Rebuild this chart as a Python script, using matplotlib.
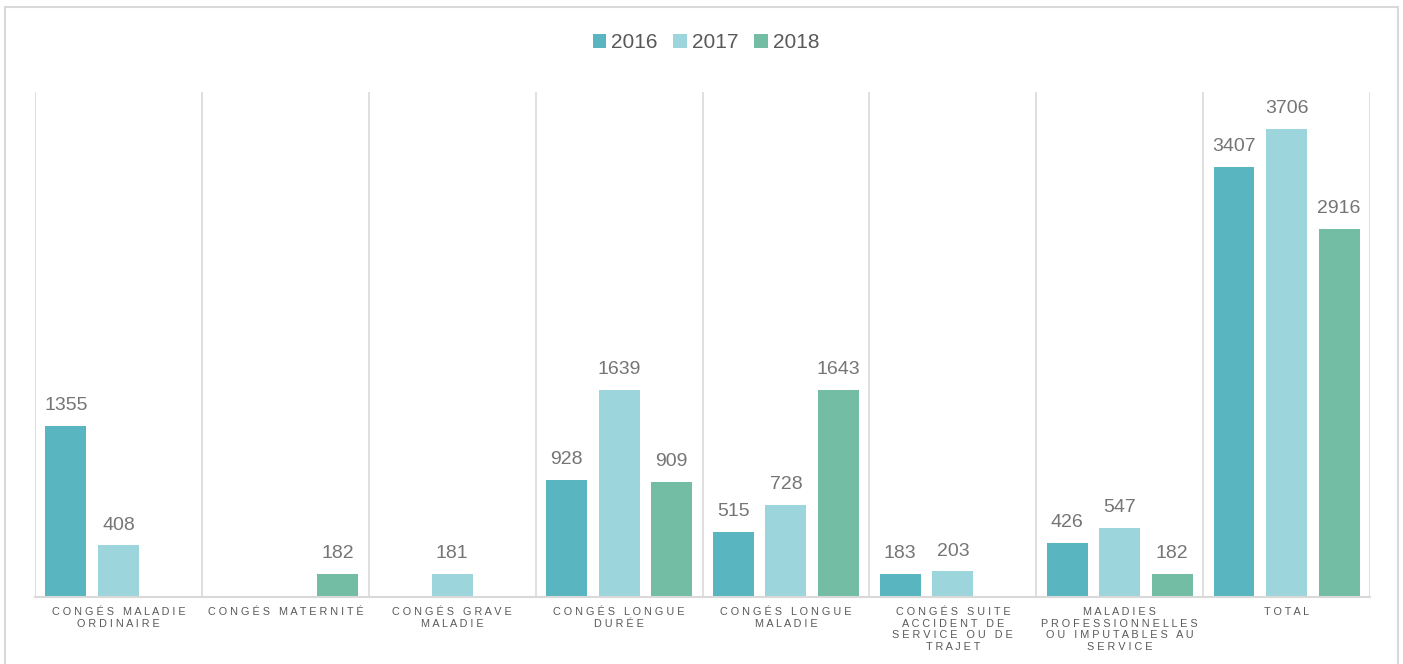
import matplotlib.pyplot as plt
import numpy as np
from matplotlib.patches import Rectangle

plt.rcParams["font.family"] = ["Liberation Sans", "DejaVu Sans"]

CATEGORIES = [
    "CONGÉS MALADIE\nORDINAIRE",
    "CONGÉS MATERNITÉ",
    "CONGÉS GRAVE\nMALADIE",
    "CONGÉS LONGUE\nDURÉE",
    "CONGÉS LONGUE\nMALADIE",
    "CONGÉS SUITE\nACCIDENT DE\nSERVICE OU DE\nTRAJET",
    "MALADIES\nPROFESSIONNELLES\nOU IMPUTABLES AU\nSERVICE",
    "TOTAL",
]
YEARS = ["2016", "2017", "2018"]
VALUES_2016 = [1355, None, None, 928, 515, 183, 426, 3407]
VALUES_2017 = [408, None, 181, 1639, 728, 203, 547, 3706]
VALUES_2018 = [None, 182, None, 909, 1643, None, 182, 2916]

COLORS = ["#59b5bf", "#9dd5dc", "#73bda5"]
GRID = "#d9d9d9"
TEXT = "#595959"


def spaced(label: str) -> str:
    # imitate the wide letter spacing of the original labels
    lines = []
    for line in label.split("\n"):
        words = [" ".join(word) for word in line.split(" ")]
        lines.append("   ".join(words))
    return "\n".join(lines)


figure = plt.figure(figsize=(14.03, 6.64), dpi=100, facecolor="white")

# outer frame
figure.add_artist(
    Rectangle(
        (5 / 1403, -0.05),
        1393 / 1403,
        1.05 - 7 / 664,
        transform=figure.transFigure,
        fill=False,
        edgecolor=GRID,
        linewidth=1.5,
    )
)

axis = figure.add_axes([35 / 1403, 1 - 597 / 664, 1335 / 1403, 505 / 664])

x = np.arange(len(CATEGORIES))
width = 0.245
step = 0.315

series = [VALUES_2016, VALUES_2017, VALUES_2018]
for index, (year, values, color) in enumerate(zip(YEARS, series, COLORS)):
    positions = []
    heights = []
    for position, value in zip(x, values):
        if value is None:
            continue
        positions.append(position + (index - 1) * step)
        heights.append(value)
    bars = axis.bar(positions, heights, width=width, color=color, label=year)
    for bar, value in zip(bars, heights):
        axis.annotate(
            f"{value}",
            (bar.get_x() + bar.get_width() / 2, bar.get_height()),
            xytext=(0, 8.5),
            textcoords="offset points",
            ha="center",
            va="bottom",
            fontsize=14,
            color="#757575",
        )

axis.set_xlim(-0.5, len(CATEGORIES) - 0.5)
axis.set_ylim(0, 4000)
axis.set_yticks([])
axis.set_xticks([])

for spine in ["top", "right", "left"]:
    axis.spines[spine].set_visible(False)
axis.spines["bottom"].set_color(GRID)
axis.spines["bottom"].set_linewidth(1.5)

for boundary in np.arange(len(CATEGORIES) + 1) - 0.5:
    axis.axvline(boundary, color=GRID, linewidth=1.2, zorder=0)

for position, label in zip(x, CATEGORIES):
    axis.text(
        position,
        -0.02,
        spaced(label),
        transform=axis.get_xaxis_transform(),
        ha="center",
        va="top",
        fontsize=7.8,
        color=TEXT,
        linespacing=1.2,
    )

figure.legend(
    loc="center",
    bbox_to_anchor=(706 / 1403, 1 - 43 / 664),
    ncol=3,
    frameon=False,
    fontsize=15,
    handlelength=0.65,
    handleheight=0.65,
    handletextpad=0.25,
    columnspacing=0.75,
    labelcolor=TEXT,
)

figure.savefig("out.png", dpi=100, facecolor="white")
